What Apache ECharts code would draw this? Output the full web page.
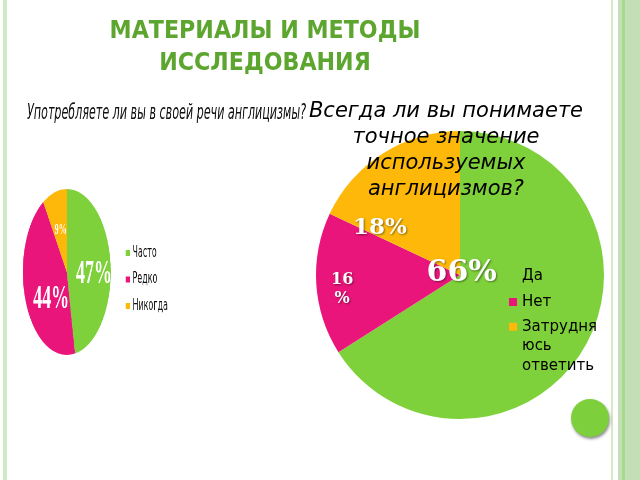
<!DOCTYPE html>
<html><head><meta charset="utf-8">
<script src="https://cdn.jsdelivr.net/npm/echarts@6/dist/echarts.min.js"></script>
<style>
html,body{margin:0;padding:0;background:#fff;}
#main{position:absolute;left:0;top:0;width:640px;height:480px;}
#left{position:absolute;left:0;top:0;width:620px;height:480px;transform:scaleX(0.53);transform-origin:0 0;}
</style></head>
<body>
<div id="main"></div>
<div id="left"></div>
<script>
// ---- data ----
const mainTitle = 'МАТЕРИАЛЫ И МЕТОДЫ\nИССЛЕДОВАНИЯ';
const leftTitle = 'Употребляете ли вы в своей речи англицизмы?';
const leftCategories = ['Часто', 'Редко', 'Никогда'];
const leftValues = [47, 44, 9];
const rightTitle = 'Всегда ли вы понимаете\nточное значение\nиспользуемых\nанглицизмов?';
const rightCategories = ['Да', 'Нет', 'Затрудняюсь ответить'];
const rightValues = [66, 16, 18];
const rightLabels = ['66%', '16\n%', '18%'];
// two leading empty lines keep the first text line level with the legend icon
const rightLegendText = {'Затрудняюсь ответить': '\n\nЗатрудня\nюсь\nответить'};

// ---- styles ----
const pieColors = ['#7fd13b', '#ea157a', '#feb80a'];
const rightLabelStyle = [
  {fontSize: 30, lineHeight: 32, dx: -64, dy: -38},
  {fontSize: 16, lineHeight: 19, dx: -43, dy: 10},
  {fontSize: 23, lineHeight: 26, dx: -40, dy: 16}
];
const leftLabelStyle = [
  {fontSize: 34, dx: 7, dy: 6},
  {fontSize: 34, dx: 12, dy: 11},
  {fontSize: 15, dx: 1, dy: 1}
];

const main = echarts.init(document.getElementById('main'), null, {renderer: 'canvas', width: 640, height: 480});
main.setOption({
  backgroundColor: '#ffffff',
  animation: false,
  color: pieColors,
  graphic: [
    {type: 'rect', shape: {x: 3, y: 0, width: 4, height: 480}, style: {fill: '#cfe9c3'}, silent: true},
    {type: 'rect', shape: {x: 611, y: 0, width: 2, height: 480}, style: {fill: '#d2ebc6'}, silent: true},
    {type: 'rect', shape: {x: 618, y: 0, width: 22, height: 480}, style: {fill: '#c3dfb5'}, silent: true},
    {type: 'rect', shape: {x: 622, y: 0, width: 3, height: 480}, style: {fill: '#a8d98c'}, silent: true},
    {type: 'circle', shape: {cx: 590, cy: 418, r: 19}, z: 10,
      style: {fill: '#7dcf3c', shadowBlur: 3, shadowColor: 'rgba(0,0,0,0.45)', shadowOffsetX: 1, shadowOffsetY: 2}},
    {type: 'text', x: 265, y: 47.5, z: 10, scaleX: 0.905,
      style: {text: mainTitle, align: 'center', verticalAlign: 'middle', fill: '#5ca52e',
        font: 'bold 24.5px "DejaVu Sans"', lineHeight: 32}},
    {type: 'text', x: 446, y: 151, z: 10,
      style: {text: rightTitle, align: 'center', verticalAlign: 'middle', fill: '#000',
        font: 'italic 21px "DejaVu Sans"', lineHeight: 26}}
  ],
  legend: [
    {orient: 'vertical', left: 509, top: 266, padding: 0, itemWidth: 8, itemHeight: 8, itemGap: 6,
      icon: 'rect', selectedMode: false, data: rightCategories.slice(0, 2),
      textStyle: {fontFamily: 'DejaVu Sans', fontSize: 15, lineHeight: 20, color: '#000'}},
    {orient: 'vertical', left: 509, top: 278, padding: 0, itemWidth: 8, itemHeight: 8,
      icon: 'rect', selectedMode: false, data: rightCategories.slice(2),
      formatter: n => rightLegendText[n] || n,
      textStyle: {fontFamily: 'DejaVu Sans', fontSize: 15, lineHeight: 19.5, color: '#000'}}
  ],
  series: [{
    type: 'pie', center: [460, 275], radius: 144, startAngle: 90, clockwise: true,
    silent: true, emphasis: {disabled: true}, labelLine: {show: false},
    data: rightCategories.map((c, i) => ({
      name: c, value: rightValues[i],
      label: {show: true, position: 'inside', formatter: rightLabels[i], color: '#fff',
        fontFamily: '"DejaVu Serif"', fontWeight: 'bold', fontSize: rightLabelStyle[i].fontSize,
        lineHeight: rightLabelStyle[i].lineHeight,
        textShadowColor: 'rgba(0,0,0,0.45)', textShadowBlur: 2, textShadowOffsetX: 1, textShadowOffsetY: 1}
    })),
    labelLayout: p => ({dx: rightLabelStyle[p.dataIndex].dx, dy: rightLabelStyle[p.dataIndex].dy})
  }]
});

const left = echarts.init(document.getElementById('left'), null, {renderer: 'canvas', width: 620, height: 480});
left.setOption({
  animation: false,
  color: pieColors,
  graphic: [
    {type: 'text', x: 51, y: 114, z: 10,
      style: {text: leftTitle, align: 'left', verticalAlign: 'middle', fill: '#111',
        font: 'italic 21px "DejaVu Sans"'}}
  ],
  legend: {orient: 'vertical', left: 237, top: 243, padding: 0, itemWidth: 8, itemHeight: 6, itemGap: 6.5,
    icon: 'rect', selectedMode: false, data: leftCategories,
    textStyle: {fontFamily: 'DejaVu Sans', fontSize: 15, lineHeight: 20, color: '#111'}},
  series: [{
    type: 'pie', center: [126, 272], radius: 83, startAngle: 90, clockwise: true,
    silent: true, emphasis: {disabled: true}, labelLine: {show: false},
    data: leftCategories.map((c, i) => ({
      name: c, value: leftValues[i],
      label: {show: true, position: 'inside', formatter: leftValues[i] + '%', color: '#fff',
        fontFamily: '"Liberation Serif"', fontWeight: 'bold', fontSize: leftLabelStyle[i].fontSize}
    })),
    labelLayout: p => ({dx: leftLabelStyle[p.dataIndex].dx, dy: leftLabelStyle[p.dataIndex].dy})
  }]
});
</script>
</body></html>
